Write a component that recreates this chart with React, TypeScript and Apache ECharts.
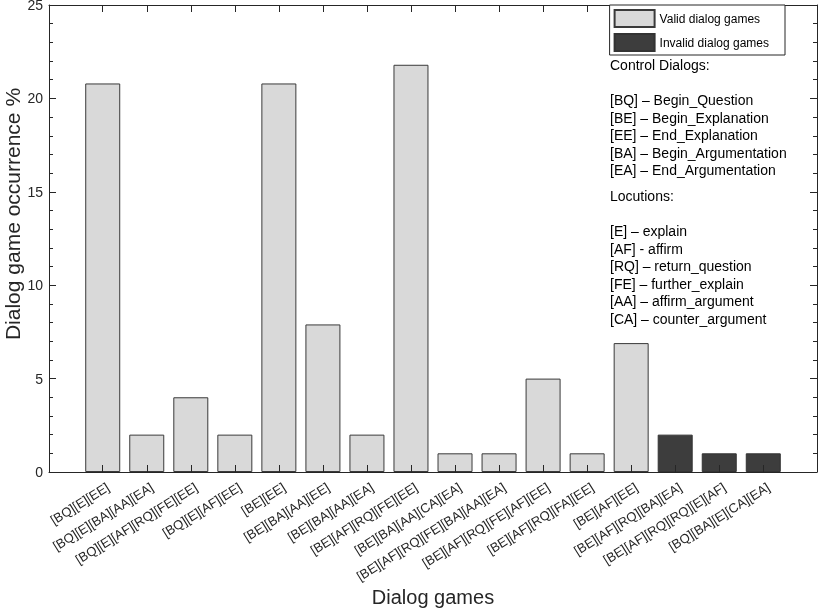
import React, { useEffect, useRef } from "react";
import * as echarts from "echarts";

const categories = [
  "[BQ][E][EE]",
  "[BQ][E][BA][AA][EA]",
  "[BQ][E][AF][RQ][FE][EE]",
  "[BQ][E][AF][EE]",
  "[BE][EE]",
  "[BE][BA][AA][EE]",
  "[BE][BA][AA][EA]",
  "[BE][AF][RQ][FE][EE]",
  "[BE][BA][AA][CA][EA]",
  "[BE][AF][RQ][FE][BA][AA][EA]",
  "[BE][AF][RQ][FE][AF][EE]",
  "[BE][AF][RQ][FA][EE]",
  "[BE][AF][EE]",
  "[BE][AF][RQ][BA][EA]",
  "[BE][AF][RQ][RQ][E][AF]",
  "[BQ][BA][E][CA][EA]",
];
const values = [20.8, 2, 4, 2, 20.8, 7.9, 2, 21.8, 1, 1, 5, 1, 6.9, 2, 1, 1];
const validity = [1, 1, 1, 1, 1, 1, 1, 1, 1, 1, 1, 1, 1, 0, 0, 0];
const legendNames = ["Valid dialog games", "Invalid dialog games"];
const controlNotes = [
  "Control Dialogs:",
  "",
  "[BQ] – Begin_Question",
  "[BE] – Begin_Explanation",
  "[EE] – End_Explanation",
  "[BA] – Begin_Argumentation",
  "[EA] – End_Argumentation",
];
const locutionNotes = [
  "Locutions:",
  "",
  "[E] – explain",
  "[AF] - affirm",
  "[RQ] – return_question",
  "[FE] – further_explain",
  "[AA] – affirm_argument",
  "[CA] – counter_argument",
];
const yTitle = "Dialog game occurrence %";
const xTitle = "Dialog games";

const FONT = "'Liberation Sans', Arial, Helvetica, sans-serif";
const AXIS = "#262626";

export default function App() {
  const ref = useRef<HTMLDivElement>(null);
  useEffect(() => {
    if (!ref.current) return;
    const chart = echarts.init(ref.current, null, { renderer: "svg" });
    const idx = categories.map((_, i) => i);
    const labelPos = categories.map((_, i) => i + 0.12);
    const validData = values.map((v, i) => (validity[i] ? [i, v] : null)).filter(Boolean);
    const invalidData = values.map((v, i) => (!validity[i] ? [i, v] : null)).filter(Boolean);
    const xCommon = {
      type: "value",
      min: -1.22,
      max: 16.22,
      z: 5,
      splitLine: { show: false },
      axisLine: { show: true, onZero: false, lineStyle: { color: AXIS, width: 1 } },
      axisTick: { show: true, inside: true, length: 7, customValues: idx, lineStyle: { color: AXIS } },
    };
    const yCommon = {
      type: "value",
      min: 0,
      max: 25,
      interval: 5,
      z: 5,
      splitLine: { show: false },
      axisLine: { show: true, onZero: false, lineStyle: { color: AXIS, width: 1 } },
      axisTick: { show: true, inside: true, length: 7, lineStyle: { color: AXIS } },
      minorTick: { show: true, splitNumber: 5, length: 4, lineStyle: { color: AXIS } },
    };
    chart.setOption({
      animation: false,
      textStyle: { fontFamily: FONT },
      grid: { left: 49, right: 13, top: 5, bottom: 137, containLabel: false, outerBoundsMode: "none" },
      legend: {
        orient: "vertical",
        right: 45,
        top: 5,
        itemWidth: 40,
        itemHeight: 17,
        itemGap: 5,
        padding: [4, 16, 3, 4],
        borderColor: AXIS,
        borderWidth: 1,
        borderRadius: 0,
        backgroundColor: "#fff",
        icon: "rect",
        z: 10,
        textStyle: { fontFamily: FONT, fontSize: 12, color: "#000" },
        data: legendNames,
      },
      xAxis: [
        {
          ...xCommon,
          position: "bottom",
          axisLabel: {
            show: true,
            customValues: labelPos,
            rotate: 32,
            margin: 14,
            fontFamily: FONT,
            fontSize: 13,
            color: "#262626",
            formatter: (v: number) => categories[Math.round(v)] ?? "",
          },
        },
        {
          ...xCommon,
          position: "top",
          axisLabel: { show: false },
        },
      ],
      yAxis: [
        {
          ...yCommon,
          position: "left",
          axisLabel: { show: true, margin: 6, fontFamily: FONT, fontSize: 14, color: "#262626" },
        },
        {
          ...yCommon,
          position: "right",
          axisLabel: { show: false },
        },
      ],
      series: [
        {
          name: legendNames[0],
          type: "bar",
          xAxisIndex: 0,
          yAxisIndex: 0,
          barWidth: 35,
          barGap: "-100%",
          data: validData,
          itemStyle: { color: "#d9d9d9", borderColor: "#3a3a3a", borderWidth: 1 },
        },
        {
          name: legendNames[1],
          type: "bar",
          xAxisIndex: 0,
          yAxisIndex: 0,
          barWidth: 35,
          barGap: "-100%",
          data: invalidData,
          itemStyle: { color: "#3d3d3d", borderColor: "#333", borderWidth: 1 },
        },
      ],
      graphic: [
        {
          type: "text",
          x: 610,
          y: 56,
          style: {
            text: controlNotes.join("\n"),
            font: `14px ${FONT}`,
            lineHeight: 17.6,
            fill: "#000",
            textVerticalAlign: "top",
          },
        },
        {
          type: "text",
          x: 610,
          y: 187,
          style: {
            text: locutionNotes.join("\n"),
            font: `14px ${FONT}`,
            lineHeight: 17.6,
            fill: "#000",
            textVerticalAlign: "top",
          },
        },
        {
          type: "text",
          x: 12,
          y: 214,
          rotation: Math.PI / 2,
          style: {
            text: yTitle,
            font: `21px ${FONT}`,
            fill: "#262626",
            textAlign: "center",
            textVerticalAlign: "middle",
          },
        },
        {
          type: "text",
          x: 433,
          y: 597,
          style: {
            text: xTitle,
            font: `20px ${FONT}`,
            fill: "#262626",
            textAlign: "center",
            textVerticalAlign: "middle",
          },
        },
      ],
    });
    return () => chart.dispose();
  }, []);
  return <div ref={ref} style={{ position: "fixed", left: 0, top: 0, width: 830, height: 609 }} />;
}
